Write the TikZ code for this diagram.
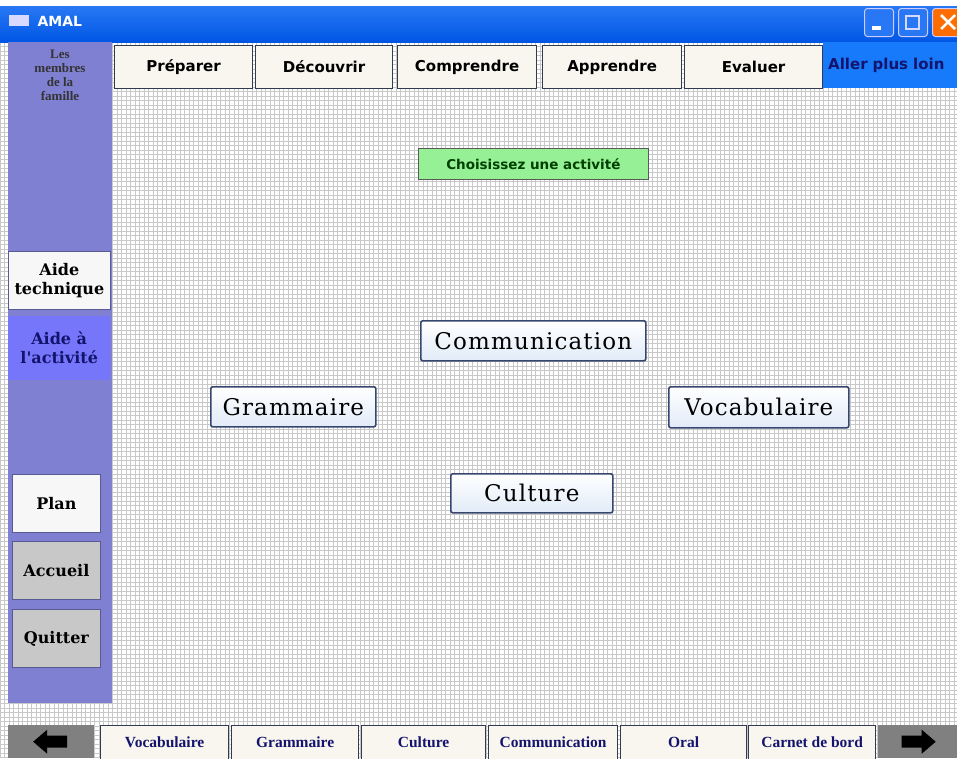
\documentclass[tikz,border=0pt]{standalone}
\usepackage{fontspec}
\usetikzlibrary{calc}
\setmainfont{Liberation Serif}
\newfontfamily\tabfont{DejaVu Sans}
\newfontfamily\btnfont{DejaVu Serif}[LetterSpace=5]
\newfontfamily\sidefont{DejaVu Serif}
\definecolor{titleblue}{RGB}{0,86,228}
\definecolor{titletop}{RGB}{40,120,245}
\definecolor{panel}{RGB}{128,128,210}
\definecolor{aidebleu}{RGB}{118,118,250}
\definecolor{tabfill}{RGB}{248,246,238}
\definecolor{tabline}{RGB}{50,60,80}
\definecolor{aller}{RGB}{22,122,250}
\definecolor{vert}{RGB}{150,240,150}
\definecolor{navy}{RGB}{20,20,110}
\definecolor{gridc}{RGB}{200,200,200}
\definecolor{btnline}{RGB}{55,70,110}
\definecolor{btnlow}{RGB}{225,235,248}
\definecolor{greybtn}{RGB}{200,200,200}
\definecolor{arrowbox}{RGB}{128,128,128}
\tikzset{
  box/.style={rectangle, inner sep=0pt, anchor=north west},
  toptab/.style={box, fill=tabfill, draw=tabline, line width=1.2pt, font=\tabfont\bfseries\fontsize{15}{17}\selectfont},
  bottab/.style={box, fill=tabfill, draw=tabline, line width=1.2pt, text=navy, font=\bfseries\fontsize{15.5}{17}\selectfont},
  centerbtn/.style={box, top color=white, bottom color=btnlow, draw=btnline, line width=1.6pt, rounded corners=2pt, font=\btnfont\fontsize{23}{25}\selectfont},
  sidebtn/.style={box, draw=panel!70!black, line width=0.8pt, font=\sidefont\bfseries\fontsize{16}{19}\selectfont, align=center},
  winbtn/.style={box, draw=white!80!blue, line width=1pt, rounded corners=3pt}
}
\begin{document}
\begin{tikzpicture}[x=1pt,y=-1pt]
\useasboundingbox (0,0) rectangle (957,758);
\fill[white] (0,0) rectangle (957,758);
% grid background
\foreach \gx in {0,4.5,...,957} \draw[gridc, line width=0.5pt] (\gx,42) -- (\gx,758);
\foreach \gy in {42,46.5,...,758} \draw[gridc, line width=0.5pt] (0,\gy) -- (957,\gy);
% title bar
\node[box, minimum width=957pt, minimum height=36pt, top color=titletop, bottom color=titleblue] (title) at (0,6) {};
\node[box, minimum width=20pt, minimum height=11pt, fill=white!85!blue] (icon) at (9,15) {};
\node[anchor=west, text=white, font=\tabfont\bfseries\fontsize{14}{16}\selectfont] (amal) at (34,21) {AMAL};
\node[winbtn, minimum width=29pt, minimum height=28pt, fill=titletop] (minb) at (864,8) {};
\fill[white] ($(minb.north west)+(8,18)$) rectangle ($(minb.north west)+(17,22)$);
\node[winbtn, minimum width=29pt, minimum height=28pt, fill=titletop] (maxb) at (898,8) {};
\draw[white!85!blue, line width=1.2pt] ($(maxb.north west)+(8,8)$) rectangle ($(maxb.north west)+(21,21)$);
\node[winbtn, minimum width=30pt, minimum height=28pt, fill=orange!85!red] (closeb) at (932,8) {};
\draw[white, line width=2.5pt] ($(closeb.north west)+(9,7)$) -- ($(closeb.north west)+(23,21)$);
\draw[white, line width=2.5pt] ($(closeb.north west)+(9,21)$) -- ($(closeb.north west)+(23,7)$);
% left panel
\node[box, minimum width=104pt, minimum height=661pt, fill=panel] (panel) at (8,42) {};
\node[anchor=north, align=center, text=black!80, font=\bfseries\fontsize{13}{14}\selectfont] (membres) at (60,46) {Les\\membres\\de la\\famille};
% top tabs
\node[toptab, minimum width=138pt, minimum height=43pt] (prep) at (114,45) {Préparer};
\node[toptab, minimum width=137pt, minimum height=43pt] (dec) at (255,45) {Découvrir};
\node[toptab, minimum width=139pt, minimum height=43pt] (comp) at (397,45) {Comprendre};
\node[toptab, minimum width=139pt, minimum height=43pt] (app) at (542,45) {Apprendre};
\node[toptab, minimum width=138pt, minimum height=43pt] (eval) at (684,45) {Evaluer};
\node[box, minimum width=135pt, minimum height=46pt, fill=aller, text=navy, anchor=north west, text width=131pt, align=left, font=\tabfont\bfseries\fontsize{15}{17}\selectfont] (aller) at (823,42) {\hspace*{3pt}Aller plus loin};
% side buttons
\node[sidebtn, minimum width=102pt, minimum height=58pt, fill=white!94!gray] (tech) at (8,251) {Aide\\technique};
\node[box, minimum width=102pt, minimum height=64pt, fill=aidebleu, text=navy, align=center, font=\sidefont\bfseries\fontsize{16}{19}\selectfont] (activ) at (8,316) {Aide à\\l'activité};
\node[sidebtn, minimum width=88pt, minimum height=58pt, fill=white!94!gray] (plan) at (12,474) {Plan};
\node[sidebtn, minimum width=88pt, minimum height=58pt, fill=greybtn] (accueil) at (12,541) {Accueil};
\node[sidebtn, minimum width=88pt, minimum height=58pt, fill=greybtn] (quitter) at (12,609) {Quitter};
% green label
\node[box, minimum width=230pt, minimum height=31pt, fill=vert, draw=gray!70!black, line width=0.7pt, text=black!75!green, font=\tabfont\bfseries\fontsize{13.5}{16}\selectfont] (choix) at (418,148) {Choisissez une activité};
% centre buttons
\node[centerbtn, minimum width=225pt, minimum height=40pt] (comm) at (420,320) {Communication};
\node[centerbtn, minimum width=165pt, minimum height=40pt] (gram) at (210,386) {Grammaire};
\node[centerbtn, minimum width=180pt, minimum height=41pt] (voca) at (668,386) {Vocabulaire};
\node[centerbtn, minimum width=162pt, minimum height=39pt] (cult) at (450,473) {Culture};
% bottom bar
\node[box, minimum width=86pt, minimum height=33pt, fill=arrowbox] (larrow) at (8,725) {};
\fill[black] ($(larrow.center)+(-18,0)$) -- ++(14,-12) -- ++(0,6) -- ++(20,0) -- ++(0,12) -- ++(-20,0) -- ++(0,6) -- cycle;
\node[bottab, minimum width=128pt, minimum height=34pt] (bvoc) at (100,725) {Vocabulaire};
\node[bottab, minimum width=127pt, minimum height=34pt] (bgram) at (231,725) {Grammaire};
\node[bottab, minimum width=124pt, minimum height=34pt] (bcult) at (361,725) {Culture};
\node[bottab, minimum width=129pt, minimum height=34pt] (bcomm) at (488,725) {Communication};
\node[bottab, minimum width=126pt, minimum height=34pt] (boral) at (620,725) {Oral};
\node[bottab, minimum width=127pt, minimum height=34pt] (bcarn) at (748,725) {Carnet de bord};
\node[box, minimum width=79pt, minimum height=33pt, fill=arrowbox] (rarrow) at (878,725) {};
\fill[black] ($(rarrow.center)+(18,0)$) -- ++(-14,-12) -- ++(0,6) -- ++(-20,0) -- ++(0,12) -- ++(20,0) -- ++(0,6) -- cycle;
\end{tikzpicture}
\end{document}
